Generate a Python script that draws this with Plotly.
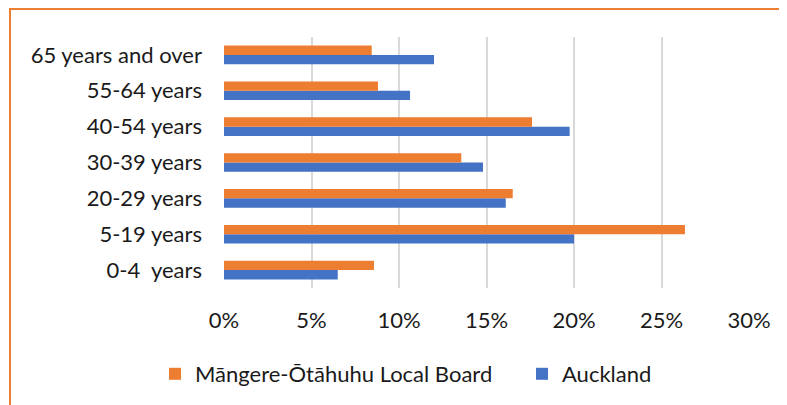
import plotly.graph_objs as go

# Age groups, bottom to top
age_groups = ['0-4\u00a0 years', '5-19 years', '20-29 years', '30-39 years',
              '40-54 years', '55-64 years', '65 years and over']

# Share of population (fraction)
mangere_otahuhu = [0.0857, 0.2634, 0.1650, 0.1356, 0.1760, 0.0880, 0.0844]
auckland = [0.0650, 0.2000, 0.1610, 0.1480, 0.1975, 0.1063, 0.1200]

x_ticks = [0, 0.05, 0.10, 0.15, 0.20, 0.25, 0.30]

font_name = 'Lato'

# Page body adds an 8px offset, so the figure is drawn 8px smaller
W, H = 779, 397
PLOT_L, PLOT_R, PLOT_T, PLOT_B = 216, 741, 29, 281
plot_w = PLOT_R - PLOT_L
plot_h = PLOT_B - PLOT_T

# Auckland first so it sits below the local board bar in each group
trace_akl = go.Bar(
    y=age_groups, x=auckland, orientation='h', name='Auckland',
    marker=dict(color='#4472C4', line=dict(width=0)), legend='legend2')
trace_mo = go.Bar(
    y=age_groups, x=mangere_otahuhu, orientation='h',
    name='M\u0101ngere-\u014ct\u0101huhu Local Board',
    marker=dict(color='#ED7D31', line=dict(width=0)), legend='legend')

legend_y = (PLOT_B - 366) / plot_h
legend_common = dict(orientation='h', xanchor='left', y=legend_y, yanchor='middle',
                     font=dict(size=22), itemclick=False, bgcolor='rgba(0,0,0,0)')

layout = go.Layout(
    width=W, height=H,
    margin=dict(l=PLOT_L, r=W - PLOT_R, t=PLOT_T, b=H - PLOT_B),
    paper_bgcolor='white', plot_bgcolor='white',
    font=dict(family=font_name, size=22, color='#1a1a1a'),
    barmode='group', bargap=0.48, bargroupgap=0,
    xaxis=dict(range=[0, 0.30], tickvals=x_ticks, tickformat='.0%',
               showgrid=True, gridcolor='#D9D9D9', gridwidth=2,
               zeroline=False, showline=False, ticks='',
               ticklabelstandoff=17, fixedrange=True),
    yaxis=dict(showgrid=False, zeroline=False, showline=False, ticks='',
               ticklabelstandoff=21, automargin=False),
    showlegend=True,
    legend=dict(x=(147 - PLOT_L) / plot_w, **legend_common),
    legend2=dict(x=(514 - PLOT_L) / plot_w, **legend_common),
    shapes=[dict(type='rect', xref='paper', yref='paper',
                 x0=(2 - PLOT_L) / plot_w, x1=1.2,
                 y0=-0.6, y1=(PLOT_B - 1) / plot_h,
                 line=dict(color='#ED7D31', width=2), fillcolor='rgba(0,0,0,0)',
                 layer='below')],
)

fig = go.Figure(data=[trace_akl, trace_mo], layout=layout)
fig.write_html('out.html')
